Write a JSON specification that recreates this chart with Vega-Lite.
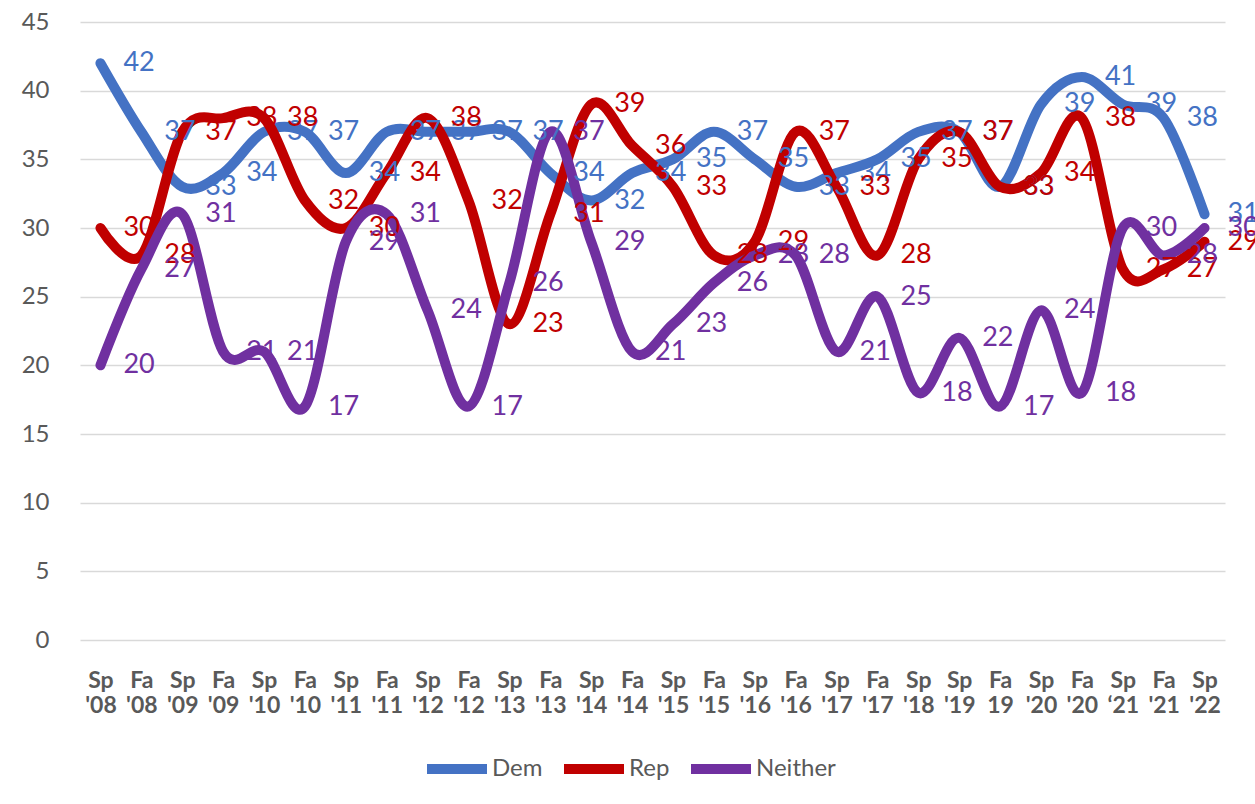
{
  "$schema": "https://vega.github.io/schema/vega-lite/v6.json",
  "width": 1145,
  "height": 618,
  "autosize": {"type": "none"},
  "padding": {"left": 80, "top": 22, "right": 30, "bottom": 164},
  "background": "white",
  "config": {"view": {"stroke": null}, "font": "Lato"},
  "data": {
    "values": [
      {"t": "Sp '08", "Dem": 42, "Rep": 30, "Neither": 20},
      {"t": "Fa '08", "Dem": 37, "Rep": 28, "Neither": 27},
      {"t": "Sp '09", "Dem": 33, "Rep": 37, "Neither": 31},
      {"t": "Fa '09", "Dem": 34, "Rep": 38, "Neither": 21},
      {"t": "Sp '10", "Dem": 37, "Rep": 38, "Neither": 21},
      {"t": "Fa '10", "Dem": 37, "Rep": 32, "Neither": 17},
      {"t": "Sp '11", "Dem": 34, "Rep": 30, "Neither": 29},
      {"t": "Fa '11", "Dem": 37, "Rep": 34, "Neither": 31},
      {"t": "Sp '12", "Dem": 37, "Rep": 38, "Neither": 24},
      {"t": "Fa '12", "Dem": 37, "Rep": 32, "Neither": 17},
      {"t": "Sp '13", "Dem": 37, "Rep": 23, "Neither": 26},
      {"t": "Fa '13", "Dem": 34, "Rep": 31, "Neither": 37},
      {"t": "Sp '14", "Dem": 32, "Rep": 39, "Neither": 29},
      {"t": "Fa '14", "Dem": 34, "Rep": 36, "Neither": 21},
      {"t": "Sp '15", "Dem": 35, "Rep": 33, "Neither": 23},
      {"t": "Fa '15", "Dem": 37, "Rep": 28, "Neither": 26},
      {"t": "Sp '16", "Dem": 35, "Rep": 29, "Neither": 28},
      {"t": "Fa '16", "Dem": 33, "Rep": 37, "Neither": 28},
      {"t": "Sp '17", "Dem": 34, "Rep": 33, "Neither": 21},
      {"t": "Fa '17", "Dem": 35, "Rep": 28, "Neither": 25},
      {"t": "Sp '18", "Dem": 37, "Rep": 35, "Neither": 18},
      {"t": "Sp '19", "Dem": 37, "Rep": 37, "Neither": 22},
      {"t": "Fa 19", "Dem": 33, "Rep": 33, "Neither": 17},
      {"t": "Sp '20", "Dem": 39, "Rep": 34, "Neither": 24},
      {"t": "Fa '20", "Dem": 41, "Rep": 38, "Neither": 18},
      {"t": "Sp ‘21", "Dem": 39, "Rep": 27, "Neither": 30},
      {"t": "Fa '21", "Dem": 38, "Rep": 27, "Neither": 28},
      {"t": "Sp '22", "Dem": 31, "Rep": 29, "Neither": 30}
    ]
  },
  "transform": [{"fold": ["Dem", "Rep", "Neither"], "as": ["series", "value"]}],
  "encoding": {
    "x": {
      "field": "t",
      "type": "nominal",
      "sort": null,
      "scale": {"type": "point", "padding": 0.5},
      "axis": {
        "title": null,
        "labelAngle": 0,
        "labelExpr": "split(datum.label, ' ')",
        "labelFontWeight": "bold",
        "labelFontSize": 23,
        "labelLineHeight": 25,
        "labelColor": "#595959",
        "labelPadding": 29,
        "labelOverlap": false,
        "ticks": false,
        "domain": false
      }
    },
    "y": {
      "field": "value",
      "type": "quantitative",
      "scale": {"domain": [0, 45], "nice": false},
      "axis": {
        "title": null,
        "values": [0, 5, 10, 15, 20, 25, 30, 35, 40, 45],
        "grid": true,
        "gridColor": "#d9d9d9",
        "gridWidth": 1.5,
        "domain": false,
        "ticks": false,
        "labelFontSize": 24,
        "labelColor": "#595959",
        "labelPadding": 31
      }
    },
    "color": {
      "field": "series",
      "type": "nominal",
      "scale": {"domain": ["Dem", "Rep", "Neither"], "range": ["#4472C4", "#C00000", "#7030A0"]},
      "legend": {
        "title": null,
        "orient": "none",
        "legendX": 342,
        "legendY": 712,
        "padding": 0,
        "direction": "horizontal",
        "gridAlign": "none",
        "symbolType": "stroke",
        "symbolSize": 3600,
        "symbolStrokeWidth": 10,
        "labelFontSize": 24,
        "labelColor": "#595959",
        "labelOffset": 0,
        "columnPadding": 1
      }
    }
  },
  "layer": [
    {
      "mark": {"type": "line", "interpolate": "cardinal", "strokeWidth": 10, "strokeCap": "round", "strokeJoin": "round"}
    },
    {
      "mark": {"type": "text", "align": "left", "baseline": "middle", "dx": 23, "fontSize": 27},
      "encoding": {
        "text": {"field": "value", "type": "quantitative"},
        "color": {"field": "series", "type": "nominal", "legend": null}
      }
    }
  ]
}
